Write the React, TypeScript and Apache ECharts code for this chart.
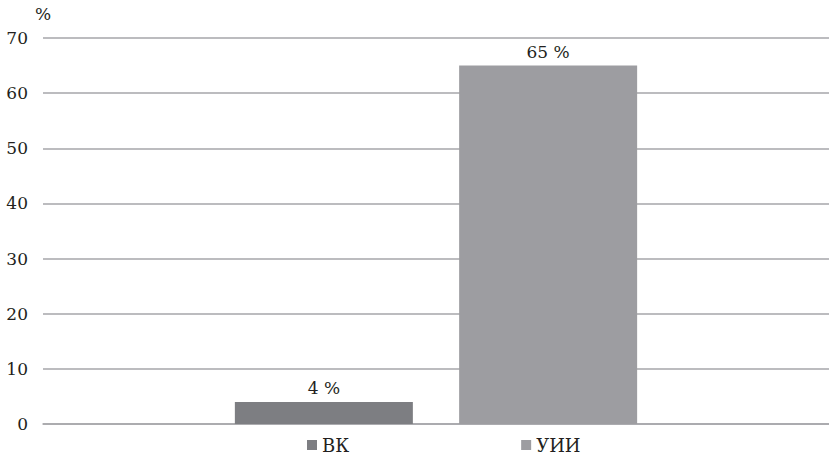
import React, { useEffect, useRef } from "react";
import * as echarts from "echarts";

const categories = [""];
const seriesNames = ["ВК", "УИИ"];
const vkValues = [4];
const uiiValues = [65];
const yTicks = [0, 10, 20, 30, 40, 50, 60, 70];

const FONT = "DejaVu Serif";
const TEXT = "#231f20";

export default function App() {
  const ref = useRef<HTMLDivElement>(null);
  useEffect(() => {
    const chart = echarts.init(ref.current!, undefined, { renderer: "svg" });
    chart.setOption({
      animation: false,
      textStyle: { fontFamily: FONT, color: TEXT },
      grid: { left: 43, width: 793, top: 38, bottom: 31, containLabel: false },
      legend: {
        data: seriesNames,
        left: 307,
        bottom: 1,
        padding: 0,
        itemWidth: 10,
        itemHeight: 10,
        itemGap: 172,
        icon: "rect",
        textStyle: { fontFamily: FONT, fontSize: 18, color: TEXT },
      },
      xAxis: {
        type: "category",
        data: categories,
        axisLine: { show: true, lineStyle: { color: "#a6a6aa", width: 1.5 } },
        axisTick: { show: false },
        axisLabel: { show: false },
      },
      yAxis: {
        type: "value",
        min: yTicks[0],
        max: yTicks[yTicks.length - 1],
        interval: 10,
        name: "%",
        nameLocation: "end",
        nameGap: 16,
        nameTextStyle: { fontFamily: FONT, fontSize: 17, color: TEXT, align: "center" },
        axisLine: { show: false },
        axisTick: { show: false },
        axisLabel: { fontFamily: FONT, fontSize: 17, color: TEXT, margin: 15 },
        splitLine: { lineStyle: { color: "#a6a6aa", width: 1.5 } },
      },
      series: [
        {
          name: seriesNames[0],
          type: "bar",
          data: vkValues,
          barWidth: 178,
          barGap: "26%",
          itemStyle: { color: "#7d7e82" },
          label: {
            show: true,
            position: "top",
            distance: 5,
            formatter: "{c} %",
            fontFamily: FONT,
            fontSize: 17,
            color: TEXT,
          },
        },
        {
          name: seriesNames[1],
          type: "bar",
          data: uiiValues,
          barWidth: 178,
          barGap: "26%",
          itemStyle: { color: "#9d9da1" },
          label: {
            show: true,
            position: "top",
            distance: 5,
            formatter: "{c} %",
            fontFamily: FONT,
            fontSize: 17,
            color: TEXT,
          },
        },
      ],
    });
    return () => chart.dispose();
  }, []);
  return (
    <div
      ref={ref}
      style={{ position: "fixed", left: 0, top: 0, width: 829, height: 455, background: "#fff" }}
    />
  );
}
